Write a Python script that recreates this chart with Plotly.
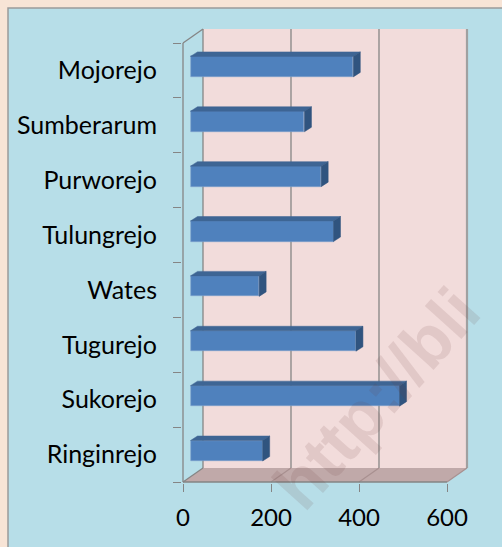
import plotly.graph_objects as go

# ---- data ----
villages = ["Ringinrejo", "Sukorejo", "Tugurejo", "Wates",
            "Tulungrejo", "Purworejo", "Sumberarum", "Mojorejo"]
values = [164, 475, 376, 156, 325, 297, 259, 370]
x_ticks = [0, 200, 400, 600]

# ---- geometry (pixels -> data units) ----
W, H = 502, 547
PL, PR, PT, PB = 182, 471, 28, 483          # plot area in px
X0PX = 183                                   # px of value 0 (front)
KX = (447 - 183) / 600                       # px per value unit
FRONT_BOT, FRONT_TOP = 482, 43
KY = (FRONT_BOT - FRONT_TOP) / 8             # px per category

xr = [(PL - X0PX) / KX, (PR - X0PX) / KX]
yr = [-0.5 - (PB - FRONT_BOT) / KY, -0.5 + (FRONT_BOT - PT) / KY]

DX = 20 / KX        # wall depth
DY = 14 / KY
BX = 7.5 / KX       # bar front offset
BY = 3.8 / KY
BH = 20.5 / KY      # bar thickness
BDX = 7 / KX        # bar depth
BDY = 4.5 / KY

c_front = "#4f81bd"
c_top = "#3e6594"
c_side = "#30547f"
grid = "#858585"

fig = go.Figure()

ypos = [i + BY for i in range(len(villages))]

# front faces
fig.add_trace(go.Bar(
    y=ypos, x=values, base=BX, orientation="h", width=BH,
    marker=dict(color=c_front, line=dict(width=0.6, color="#7fa3cf")),
    hoverinfo="skip", showlegend=False))

# top and side faces
tx, ty, sx, sy = [], [], [], []
for v, yc in zip(values, ypos):
    yt = yc + BH / 2
    yb = yc - BH / 2
    x1 = BX + v
    tx += [BX, x1, x1 + BDX, BX + BDX, BX, None]
    ty += [yt, yt, yt + BDY, yt + BDY, yt, None]
    sx += [x1, x1, x1 + BDX, x1 + BDX, x1, None]
    sy += [yb, yt, yt + BDY, yb + BDY, yb, None]
fig.add_trace(go.Scatter(x=tx, y=ty, fill="toself", fillcolor=c_top,
                         mode="lines", line=dict(width=0.5, color=c_top),
                         hoverinfo="skip", showlegend=False))
fig.add_trace(go.Scatter(x=sx, y=sy, fill="toself", fillcolor=c_side,
                         mode="lines", line=dict(width=0.5, color=c_side),
                         hoverinfo="skip", showlegend=False))

shapes = []
# panel background (paper coords)
pw, ph = PR - PL, PB - PT
def px_x(px): return (px - PL) / pw
def px_y(py): return (PB - py) / ph
shapes.append(dict(type="rect", xref="paper", yref="paper",
                   x0=px_x(8), x1=px_x(W + 5), y0=px_y(H + 5), y1=px_y(8),
                   fillcolor="#b7dee8", line=dict(color="#9a9a9a", width=1.5),
                   layer="below"))
# back wall
shapes.append(dict(type="rect", xref="x", yref="y",
                   x0=DX, x1=600 + DX, y0=-0.5 + DY, y1=7.5 + DY,
                   fillcolor="#f2dcdb", line=dict(width=0), layer="below"))
# floor
shapes.append(dict(type="path", xref="x", yref="y",
                   path=f"M 0 -0.5 L 600 -0.5 L {600+DX} {-0.5+DY} L {DX} {-0.5+DY} Z",
                   fillcolor="#c0a9a9", line=dict(width=0), layer="below"))
# back wall gridlines & floor diagonals
for v in x_ticks:
    wcol = "#a0a0a0" if v == 600 else grid
    ww = 2.2 if v == 600 else 1.3
    shapes.append(dict(type="line", xref="x", yref="y",
                       x0=v + DX, x1=v + DX, y0=-0.5 + DY, y1=7.5 + DY,
                       line=dict(color=wcol, width=ww), layer="below"))
    shapes.append(dict(type="line", xref="x", yref="y",
                       x0=v, x1=v + DX, y0=-0.5, y1=-0.5 + DY,
                       line=dict(color="#a89090" if v else grid, width=1.2),
                       layer="below"))
# front axes
shapes.append(dict(type="line", xref="x", yref="y", x0=0, x1=600, y0=-0.5, y1=-0.5,
                   line=dict(color=grid, width=1.3), layer="below"))
shapes.append(dict(type="line", xref="x", yref="y", x0=0, x1=0, y0=-0.5, y1=7.5,
                   line=dict(color=grid, width=1.3), layer="below"))
shapes.append(dict(type="line", xref="x", yref="y", x0=0, x1=DX, y0=7.5, y1=7.5 + DY,
                   line=dict(color=grid, width=1.3), layer="below"))

fig.update_layout(
    width=W, height=H,
    margin=dict(l=PL, r=W - PR, t=PT, b=H - PB, pad=0),
    paper_bgcolor="#f7e4d6", plot_bgcolor="rgba(0,0,0,0)",
    shapes=shapes, bargap=0,
    font=dict(family="Lato", color="#000000"),
    annotations=[dict(text="<b>http://bli</b>", xref="paper", yref="paper",
                      x=px_x(376), y=px_y(398), xanchor="center", yanchor="middle",
                      showarrow=False, textangle=-48,
                      font=dict(size=68, family="Liberation Sans",
                                color="rgba(110,60,60,0.12)"))],
)
fig.update_xaxes(range=xr, tickvals=x_ticks, ticktext=[str(t) for t in x_ticks],
                 ticks="outside", ticklen=8, tickcolor=grid, tickwidth=1.3,
                 showgrid=False, zeroline=False, showline=False,
                 tickfont=dict(size=24, family="Lato"), ticklabelstandoff=5)
fig.update_yaxes(range=yr, tickvals=list(range(len(villages))), ticktext=villages,
                 ticks="", showgrid=False, zeroline=False, showline=False,
                 minor=dict(tickvals=[i - 0.5 for i in range(len(villages) + 1)],
                            ticks="outside", ticklen=8, tickcolor=grid, tickwidth=1.3,
                            showgrid=False),
                 tickfont=dict(size=25, family="Lato"), ticklabelstandoff=24)

fig.write_html("out.html", config={"displayModeBar": False},
               post_script="document.body.style.margin='0px';")
